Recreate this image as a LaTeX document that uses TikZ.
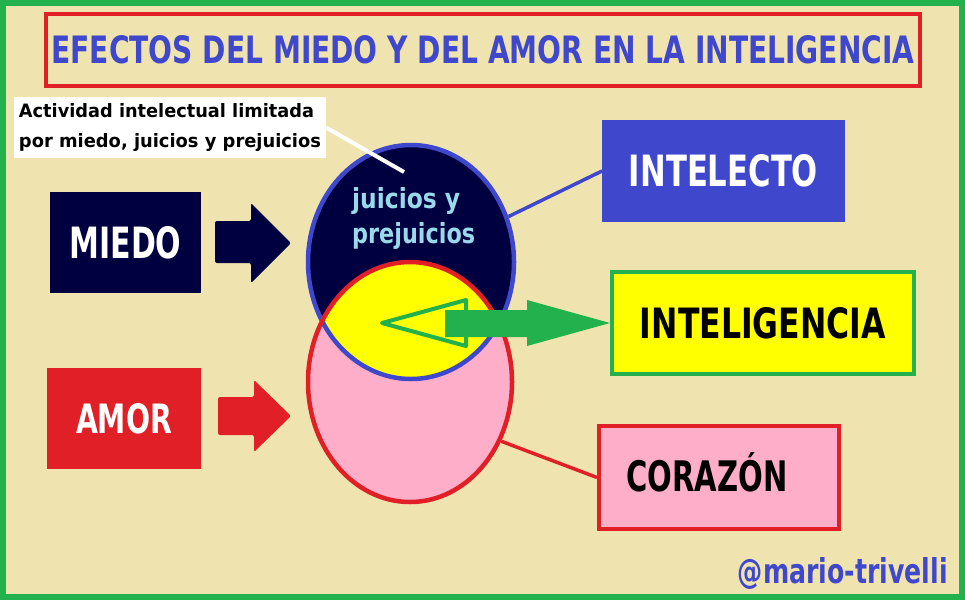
\documentclass[tikz,border=0pt]{standalone}
\usepackage{fontspec}
\setmainfont{DejaVu Sans}
\usepackage{graphicx}
\usetikzlibrary{shapes.geometric}
\definecolor{bgc}{HTML}{EFE4B0}
\definecolor{framec}{HTML}{22B14C}
\definecolor{tred}{HTML}{E01F26}
\definecolor{tblue}{HTML}{3F48CC}
\definecolor{navy}{HTML}{000040}
\definecolor{pinkc}{HTML}{FFAEC9}
\definecolor{yelc}{HTML}{FFFF00}
\definecolor{lblue}{HTML}{99D9EA}
\newcommand{\fitbox}[3]{\resizebox{#1}{#2}{\bfseries #3}}
\begin{document}
\begin{tikzpicture}[x=1pt,y=-1pt,
  solidbox/.style={rectangle, inner sep=0pt, outer sep=0pt},
  framedbox/.style={rectangle, inner sep=0pt, line width=4pt},
  ring/.style={ellipse, inner sep=0pt, line width=4.5pt}]
\useasboundingbox (0,0) rectangle (965,600);
\fill[bgc] (0,0) rectangle (965,600);
\draw[framec, line width=6pt] (3,3) rectangle (962,597);

% title
\node[framedbox, draw=tred, minimum width=874pt, minimum height=72pt, text=tblue] (title) at (483,50)
  {\fitbox{863pt}{28pt}{EFECTOS DEL MIEDO Y DEL AMOR EN LA INTELIGENCIA}};

% ellipses
\fill[navy] (411,262) ellipse [x radius=103pt, y radius=117pt];
\fill[pinkc] (410,382) ellipse [x radius=102pt, y radius=120pt];
\begin{scope}
  \clip (411,262) ellipse [x radius=103pt, y radius=117pt];
  \fill[yelc] (410,382) ellipse [x radius=102pt, y radius=120pt];
\end{scope}
\node[ring, draw=tblue, minimum width=206pt, minimum height=234pt] (intel) at (411,262) {};
\node[ring, draw=tred, minimum width=204pt, minimum height=240pt] (heart) at (410,382) {};
\node[anchor=north west, inner sep=0pt, align=left, text=lblue, font=\fontsize{10}{35}\selectfont] (jp) at (352,187)
  {\fitbox{108pt}{21pt}{juicios y}\\\fitbox{123pt}{21pt}{prejuicios}};

% note
\node[solidbox, fill=white, minimum width=312pt, minimum height=61pt, align=left, font=\fontsize{10}{30}\selectfont] (note) at (170,127.5)
  {\fitbox{295pt}{14pt}{Actividad intelectual limitada}\\\fitbox{302pt}{14pt}{por miedo, juicios y prejuicios}};
\coordinate (ptr) at (404,172);
\draw[white, line width=4pt] (note.east) -- (ptr);

% left boxes and block arrows
\node[solidbox, fill=navy, minimum width=151pt, minimum height=101pt, text=white] (miedo) at (125.5,242.5)
  {\fitbox{112pt}{32pt}{MIEDO}};
\fill[navy, rounded corners=2pt] (215,221) -- (251,221) -- (251,203) -- (291,243) -- (251,283) -- (251,263) -- (215,263) -- cycle;
\node[solidbox, fill=tred, minimum width=154pt, minimum height=101pt, text=white] (amor) at (124,418.5)
  {\fitbox{96pt}{30pt}{AMOR}};
\fill[tred, rounded corners=2pt] (218,397) -- (254,397) -- (254,380) -- (291,416) -- (254,452) -- (254,435) -- (218,435) -- cycle;

% right boxes
\node[solidbox, fill=tblue, minimum width=243pt, minimum height=102pt, text=white] (intelecto) at (723.5,171)
  {\fitbox{189pt}{32pt}{INTELECTO}};
\node[framedbox, draw=framec, fill=yelc, minimum width=302pt, minimum height=102pt] (inteligencia) at (763,323)
  {\fitbox{246pt}{31pt}{INTELIGENCIA}};
\node[framedbox, draw=tred, fill=pinkc, minimum width=240pt, minimum height=103pt] (corazon) at (719,477.5)
  {\makebox[185pt][l]{\raisebox{0pt}[27pt][0pt]{\fitbox{161pt}{39pt}{CORAZÓN}}}};

% connectors
\draw[tblue, line width=3.5pt] (intel.25) -- (intelecto.west);
\draw[tred, line width=3.5pt] (heart.-33) -- (corazon.west);

% green double arrow
\coordinate (gtip) at (382,323);
\filldraw[fill=yelc, draw=framec, line width=4pt, line join=round] (gtip) -- (466,300) -- (466,346) -- cycle;
\fill[framec] (445,310) -- (527,310) -- (527,300) -- (inteligencia.west) -- (527,346) -- (527,337) -- (445,337) -- cycle;

% signature
\node[anchor=base east, inner sep=0pt, text=tblue] (sig) at (948,583) {\fitbox{210pt}{26pt}{@mario-trivelli}};
\end{tikzpicture}
\end{document}
